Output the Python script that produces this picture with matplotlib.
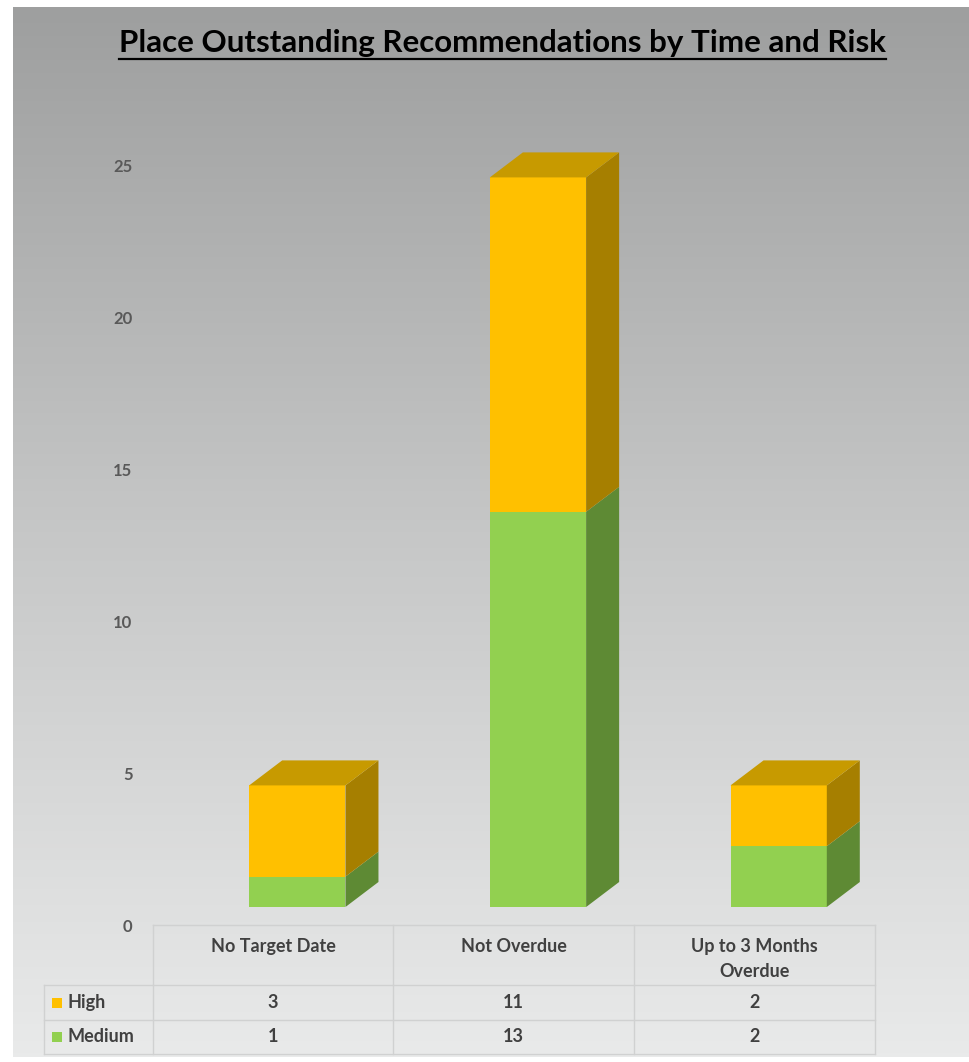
import matplotlib.pyplot as plt
import numpy as np
from matplotlib.colors import LinearSegmentedColormap
from matplotlib.patches import Polygon, Rectangle
from matplotlib.transforms import ScaledTranslation

plt.rcParams['font.family'] = ['Lato', 'DejaVu Sans']

# data
categories = ['No Target Date', 'Not Overdue', 'Up to 3 Months\nOverdue']
series = ['High', 'Medium']
high = [3, 11, 2]
medium = [1, 13, 2]
y_ticks = [0, 5, 10, 15, 20, 25]

front_colors = {'High': '#FFC000', 'Medium': '#92D050'}
side_colors = {'High': '#A67F00', 'Medium': '#5E8A34'}
top_colors = {'High': '#C79A00', 'Medium': '#76A840'}

W, H = 970, 1062
fig = plt.figure(figsize=(W / 100, H / 100), dpi=100)
fig.patch.set_facecolor('white')

# gradient background
bg = fig.add_axes([13 / W, 5 / H, 1 - 13 / W, 1 - 12 / H], zorder=-10)
cmap = LinearSegmentedColormap.from_list('bg', ['#9e9f9f', '#c6c7c7', '#e9eaea'])
bg.imshow(np.linspace(0, 1, 256).reshape(-1, 1), cmap=cmap, aspect='auto')
bg.axis('off')

# main 3d-ish bar axes
px_unit = 30.4
ax = fig.add_axes([177 / W, (H - 907) / H, 722 / W, 26 * px_unit / H])
ax.patch.set_visible(False)
ax.set_xlim(-0.5, 2.5)
ax.set_ylim(0, 26)
for s in ax.spines.values():
    s.set_visible(False)
ax.set_xticks([])
ax.set_yticks(y_ticks)
ax.tick_params(axis='y', length=0, pad=32, labelsize=12, labelcolor='#595959')
shift = ScaledTranslation(0, -19 / 100, fig.dpi_scale_trans)
for lab in ax.get_yticklabels():
    lab.set_transform(lab.get_transform() + shift)
    lab.set_fontweight('bold')

bw = 0.4
dx = 33 / (722 / 3)
dy = 25 / px_unit
x = np.arange(len(categories))

def draw_box(xc, bottom, height, name, top_face):
    x0, x1 = xc - bw / 2, xc + bw / 2
    y1 = bottom + height
    ax.bar(xc, height, bw, bottom=bottom, color=front_colors[name], linewidth=0, zorder=2)
    ax.add_patch(Polygon([(x1, bottom), (x1 + dx, bottom + dy), (x1 + dx, y1 + dy), (x1, y1)],
                         closed=True, facecolor=side_colors[name], linewidth=0, zorder=2))
    if top_face:
        ax.add_patch(Polygon([(x0, y1), (x0 + dx, y1 + dy), (x1 + dx, y1 + dy), (x1, y1)],
                             closed=True, facecolor=top_colors[name], linewidth=0, zorder=2))

for i in range(len(categories)):
    draw_box(x[i], 0, medium[i], 'Medium', False)
    draw_box(x[i], medium[i], high[i], 'High', True)

# overlay in pixel coordinates for title and data table
ov = fig.add_axes([0, 0, 1, 1], zorder=5)
ov.set_xlim(0, W)
ov.set_ylim(H, 0)
ov.axis('off')
ov.patch.set_visible(False)

title = ov.text(503, 43, 'Place Outstanding Recommendations by Time and Risk',
                ha='center', va='center', fontsize=22.5, fontweight='bold', color='black')
fig.canvas.draw()
bb = title.get_window_extent().transformed(ov.transData.inverted())
ov.plot([bb.x0, bb.x1], [59, 59], color='black', lw=1.6)

line_c = '#d0d1d1'
col_edges = [153, 393, 634, 875]
row_edges = [925, 985, 1020, 1054]
left = 44
ov.plot([col_edges[0], col_edges[-1]], [row_edges[0]] * 2, color=line_c, lw=1)
for r in row_edges[1:]:
    ov.plot([left, col_edges[-1]], [r, r], color=line_c, lw=1)
for c in col_edges:
    ov.plot([c, c], [row_edges[0], row_edges[-1]], color=line_c, lw=1)
ov.plot([left, left], [row_edges[1], row_edges[-1]], color=line_c, lw=1)

txt_c = '#404040'
for j, cat in enumerate(categories):
    cx = (col_edges[j] + col_edges[j + 1]) / 2
    ov.text(cx, 938, cat, ha='center', va='top', fontsize=13, fontweight='bold',
            color=txt_c, linespacing=1.6)

for k, (name, vals) in enumerate(zip(series, [high, medium])):
    cy = (row_edges[k + 1] + row_edges[k + 2]) / 2
    ov.add_patch(Rectangle((52, cy - 5), 10, 10, facecolor=front_colors[name], linewidth=0))
    ov.text(68, cy, name, ha='left', va='center', fontsize=13, fontweight='bold', color=txt_c)
    for j, v in enumerate(vals):
        cx = (col_edges[j] + col_edges[j + 1]) / 2
        ov.text(cx, cy, str(v), ha='center', va='center', fontsize=13,
                fontweight='bold', color=txt_c)

fig.savefig('out.png', dpi=100)
